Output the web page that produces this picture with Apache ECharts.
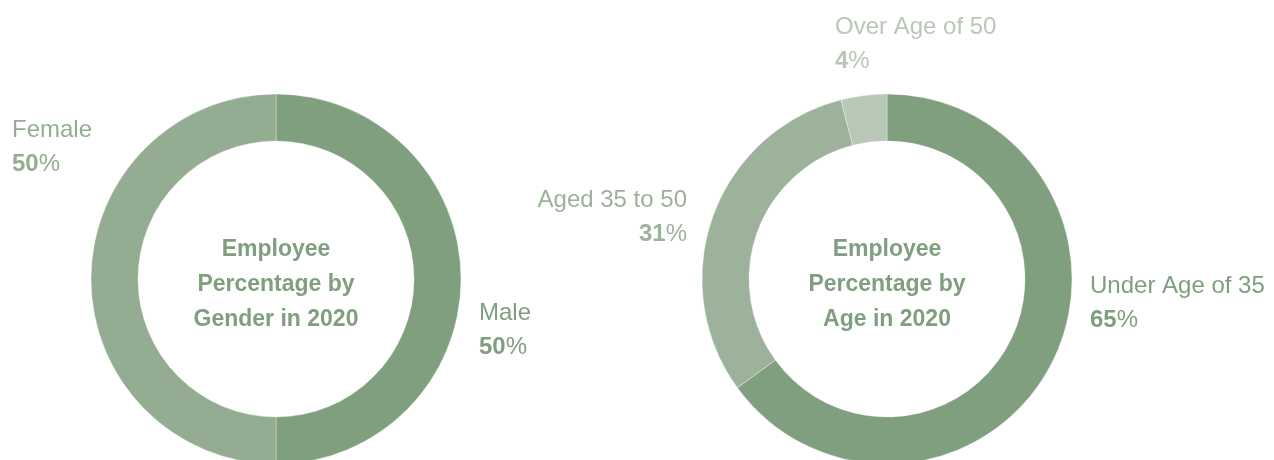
<!DOCTYPE html>
<html>
<head>
<meta charset="utf-8">
<script src="https://cdn.jsdelivr.net/npm/echarts@6/dist/echarts.min.js"></script>
<style>
html,body{margin:0;padding:0;background:#fff;}
#chart{width:1274px;height:460px;}
</style>
</head>
<body>
<div id="chart"></div>
<script>
// Data
const genderCategories = ['Male', 'Female'];
const genderValues = [50, 50];
const ageCategories = ['Under Age of 35', 'Aged 35 to 50', 'Over Age of 50'];
const ageValues = [65, 31, 4];
const centerTitles = ['Employee\nPercentage by\nGender in 2020', 'Employee\nPercentage by\nAge in 2020'];

// Styles / layout
const genderColors = ['#7F9F7E', '#94AD92'];
const ageColors = ['#7F9F7E', '#9DB29B', '#B9C8B6'];
const centers = [[276, 279], [887, 279]];
const radius = [138, 185];
const FONT = '"Liberation Sans", Arial, Helvetica, sans-serif';
const genderLabelPos = [
  {x: 479, y: 296, align: 'left'},
  {x: 12, y: 113, align: 'left'}
];
const ageLabelPos = [
  {x: 1090, y: 269, align: 'left'},
  {x: 687, y: 183, align: 'right'},
  {x: 835, y: 10, align: 'left'}
];

function makeRich(color) {
  return {
    n: {fontSize: 24, color: color, fontFamily: FONT, fontWeight: 300, lineHeight: 34},
    b: {fontSize: 24, color: color, fontFamily: FONT, fontWeight: 'bold', lineHeight: 34},
    p: {fontSize: 24, color: color, fontFamily: FONT, fontWeight: 300, lineHeight: 34}
  };
}

function buildData(cats, vals, colors, pos) {
  return cats.map((c, i) => ({
    name: c,
    value: vals[i],
    itemStyle: {color: colors[i]},
    label: {
      align: pos[i].align,
      rich: makeRich(colors[i])
    }
  }));
}

function buildSeries(cats, vals, colors, pos, center) {
  return {
    type: 'pie',
    center: center,
    radius: radius,
    startAngle: 90,
    clockwise: true,
    silent: true,
    avoidLabelOverlap: false,
    itemStyle: {borderColor: 'rgba(255,255,255,0.35)', borderWidth: 1},
    label: {
      show: true,
      position: 'outside',
      formatter: p => '{n|' + p.name + '}\n{b|' + p.value + '}{p|%}'
    },
    labelLine: {show: false},
    labelLayout: function (params) {
      const q = pos[params.dataIndex];
      return {x: q.x, y: q.y, align: q.align, verticalAlign: 'top'};
    },
    data: buildData(cats, vals, colors, pos)
  };
}

const chart = echarts.init(document.getElementById('chart'), null, {renderer: 'canvas'});
chart.setOption({
  animation: false,
  backgroundColor: '#ffffff',
  series: [
    buildSeries(genderCategories, genderValues, genderColors, genderLabelPos, centers[0]),
    buildSeries(ageCategories, ageValues, ageColors, ageLabelPos, centers[1])
  ],
  graphic: centerTitles.map((t, i) => ({
    type: 'text',
    x: centers[i][0],
    y: centers[i][1] + 6,
    silent: true,
    style: {
      text: t,
      fill: '#7F9F7E',
      fontSize: 23,
      fontWeight: 'bold',
      fontFamily: FONT,
      lineHeight: 35,
      align: 'center',
      verticalAlign: 'middle'
    }
  }))
});
</script>
</body>
</html>
